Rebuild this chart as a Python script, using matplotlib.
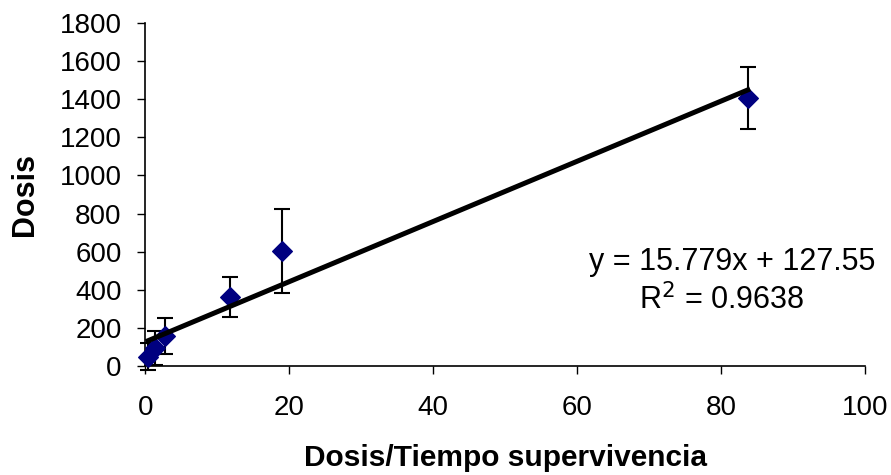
import matplotlib
matplotlib.use("Agg")
import matplotlib.pyplot as plt
import numpy as np

plt.rcParams["font.family"] = ["Liberation Sans", "DejaVu Sans"]

# data
x_vals = [0.4, 1.3, 2.8, 11.8, 19.0, 83.7]
y_vals = [50, 95, 157, 362, 603, 1406]
y_err = [70, 90, 95, 105, 220, 163]
slope, intercept = 15.779, 127.55
eq_text = "y = 15.779x + 127.55"
r2_text = "R$^2$ = 0.9638"

fig = plt.figure(figsize=(8.91, 4.75), dpi=100)
ax = fig.add_axes([0.163, 0.229, 0.808, 0.723])

eb = ax.errorbar(x_vals, y_vals, yerr=y_err, fmt="none", ecolor="black",
                 elinewidth=1.5, capsize=5.5, capthick=1.5, zorder=2)
for art in eb.lines[1] + eb.lines[2]:
    art.set_clip_on(False)
ax.scatter(x_vals, y_vals, marker="D", s=100, color="#000080", zorder=3,
           clip_on=False)

xl = np.array([min(x_vals), max(x_vals)])
ax.plot(xl, slope * xl + intercept, color="black", linewidth=3.6, zorder=4)

ax.text(0.815, 0.303, eq_text, transform=ax.transAxes, fontsize=22,
        ha="center", va="center")
ax.text(0.801, 0.192, r2_text, transform=ax.transAxes, fontsize=22,
        ha="center", va="center")

ax.set_xlim(0, 100)
ax.set_ylim(0, 1800)
ax.set_xticks(range(0, 101, 20))
ax.set_yticks(range(0, 1801, 200))
ax.tick_params(labelsize=20, length=6, width=1, direction="out")
ax.tick_params(axis="x", pad=15)
ax.tick_params(axis="y", pad=11)
for side in ("top", "right"):
    ax.spines[side].set_visible(False)
for side in ("left", "bottom"):
    ax.spines[side].set_linewidth(1.2)
ax.set_xlabel("Dosis/Tiempo supervivencia", fontsize=21.5, fontweight="bold",
              labelpad=16)
ax.set_ylabel("Dosis", fontsize=22, fontweight="bold", labelpad=14)

fig.savefig("out.png", dpi=100)
